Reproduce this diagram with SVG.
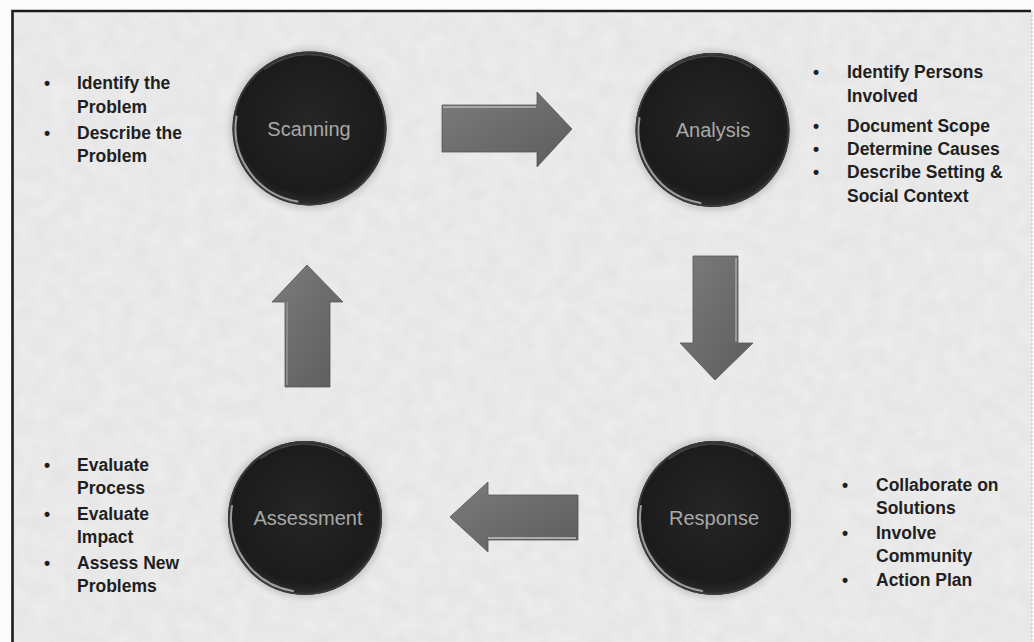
<svg xmlns="http://www.w3.org/2000/svg" width="1034" height="642" viewBox="0 0 1034 642">
<defs>
<style>
.bt{font-family:"Liberation Sans",Arial,sans-serif;font-weight:bold;font-size:17.5px;fill:#1f1f1f}
.lbl{font-family:"Liberation Sans",Arial,sans-serif;font-size:20px;fill:#a8a8a8;text-anchor:middle}
.arrow{fill:url(#ag);stroke:#555;stroke-width:0.8}
.hl{fill:none;stroke:#d0d0d0;stroke-width:2;stroke-linecap:round;opacity:0.7}
.rim{fill:none;stroke:#3a3a3a;stroke-width:2}
</style>
<radialGradient id="cg" cx="0.5" cy="0.45" r="0.55">
<stop offset="0" stop-color="#262626"/>
<stop offset="0.85" stop-color="#1b1b1b"/>
<stop offset="1" stop-color="#2e2e2e"/>
</radialGradient>
<linearGradient id="ag" x1="0" y1="0" x2="1" y2="1">
<stop offset="0" stop-color="#7c7c7c"/>
<stop offset="1" stop-color="#5c5c5c"/>
</linearGradient>
<filter id="sh" x="-20%" y="-20%" width="140%" height="140%">
<feGaussianBlur stdDeviation="3"/>
</filter>
<filter id="noise" x="0" y="0" width="100%" height="100%">
<feTurbulence type="fractalNoise" baseFrequency="0.06" numOctaves="4" seed="3"/>
<feColorMatrix type="matrix" values="0 0 0 0 0.55  0 0 0 0 0.55  0 0 0 0 0.55  0 0 0 0.25 0"/>
</filter>
<g id="ball">
<circle r="80" fill="#9a9a9a" opacity="0.45" filter="url(#sh)"/>
<circle r="77" fill="url(#cg)"/>
<circle r="76" class="rim"/>
<path class="hl" d="M -73,-12 A 74 74 0 0 0 -12,73"/>
<path d="M -45,-59 A 74 74 0 0 1 40,-62" fill="none" stroke="#555" stroke-width="1.5" opacity="0.7"/>
</g>
</defs>
<rect width="1034" height="642" fill="#fbfbfb"/>
<rect x="12" y="11" width="1020" height="640" fill="#eeeeee"/>
<rect x="12" y="11" width="1020" height="640" filter="url(#noise)"/>
<path d="M 12.5,660 V 11 H 1031" fill="none" stroke="#1c1c1c" stroke-width="2.6"/>
<path d="M 1032,11 V 642" fill="none" stroke="#bbb" stroke-width="1" stroke-dasharray="2 2"/>

<g id="connectors">
<path class="arrow" d="M 442,105 H 537 V 92 L 572,129 L 537,167 V 152 H 442 Z"/>
<path d="M 443,107 H 536" stroke="#bdbdbd" stroke-width="1.5"/>
<path class="arrow" d="M 693,256 H 738 V 343 H 753 L 715,380 L 680,343 H 693 Z"/>
<path d="M 736,258 V 342" stroke="#a9a9a9" stroke-width="1.5"/>
<path class="arrow" d="M 307,265 L 343,302 H 330 V 387 H 285 V 302 H 272 Z"/>
<path d="M 287,302 V 385" stroke="#a0a0a0" stroke-width="1.2"/>
<path class="arrow" d="M 450,517 L 488,482 V 495 H 578 V 540 H 488 V 552 Z"/>
<path d="M 488,538 H 576" stroke="#c4c4c4" stroke-width="1.5"/>
</g>

<g id="scanning">
<use href="#ball" transform="translate(309.5,128.5)"/>
<text class="lbl" x="309" y="136">Scanning</text>
</g>
<g id="analysis">
<use href="#ball" transform="translate(712.5,130)"/>
<text class="lbl" x="713" y="137">Analysis</text>
</g>
<g id="response">
<use href="#ball" transform="translate(714,518)"/>
<text class="lbl" x="714" y="525">Response</text>
</g>
<g id="assessment">
<use href="#ball" transform="translate(305,518)"/>
<text class="lbl" x="308" y="525">Assessment</text>
</g>

<g id="scanning-notes" class="bt">
<text x="44" y="89">•</text><text x="77" y="89">Identify the</text>
<text x="77" y="113">Problem</text>
<text x="44" y="139">•</text><text x="77" y="139">Describe the</text>
<text x="77" y="162">Problem</text>
</g>
<g id="analysis-notes" class="bt">
<text x="813" y="78">•</text><text x="847" y="78">Identify Persons</text>
<text x="847" y="102">Involved</text>
<text x="813" y="132">•</text><text x="847" y="132">Document Scope</text>
<text x="813" y="155">•</text><text x="847" y="155">Determine Causes</text>
<text x="813" y="178">•</text><text x="847" y="178">Describe Setting &amp;</text>
<text x="847" y="202">Social Context</text>
</g>
<g id="response-notes" class="bt">
<text x="842" y="491">•</text><text x="876" y="491">Collaborate on</text>
<text x="876" y="514">Solutions</text>
<text x="842" y="539">•</text><text x="876" y="539">Involve</text>
<text x="876" y="562">Community</text>
<text x="842" y="586">•</text><text x="876" y="586">Action Plan</text>
</g>
<g id="assessment-notes" class="bt">
<text x="44" y="471">•</text><text x="77" y="471">Evaluate</text>
<text x="77" y="494">Process</text>
<text x="44" y="520">•</text><text x="77" y="520">Evaluate</text>
<text x="77" y="543">Impact</text>
<text x="44" y="569">•</text><text x="77" y="569">Assess New</text>
<text x="77" y="592">Problems</text>
</g>
</svg>
